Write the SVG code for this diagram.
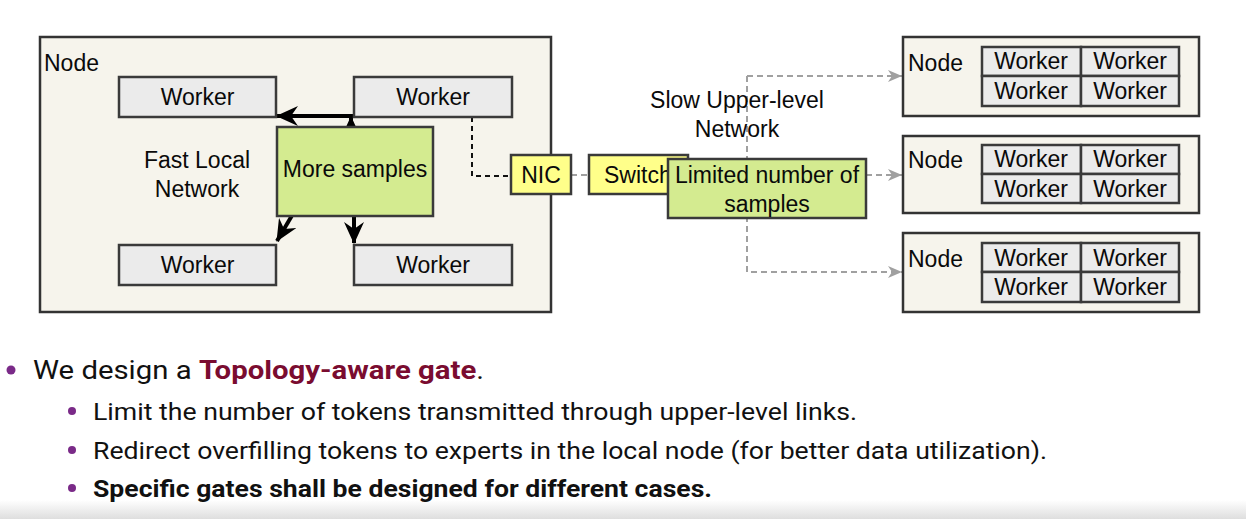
<svg xmlns="http://www.w3.org/2000/svg" width="1246" height="519" viewBox="0 0 1246 519">
<defs>
  <linearGradient id="bg" x1="0" y1="0" x2="0" y2="1">
    <stop offset="0" stop-color="#ffffff"/>
    <stop offset="1" stop-color="#dedede"/>
  </linearGradient>
  <marker id="blk" markerUnits="userSpaceOnUse" viewBox="0 0 22 20" markerWidth="22" markerHeight="20" refX="21" refY="10" orient="auto">
    <path d="M0,0 L22,10 L0,20 L7,10 z" fill="#000"/>
  </marker>
  <marker id="gry" markerUnits="userSpaceOnUse" viewBox="0 0 14 12" markerWidth="14" markerHeight="12" refX="14" refY="6" orient="auto">
    <path d="M0,0 L14,6 L0,12 L4,6 z" fill="#a0a0a0"/>
  </marker>
  <style>
    .t{font-family:"Liberation Sans",Arial,sans-serif;font-size:23px;fill:#0a0a0a}
    .c{text-anchor:middle}
    .node{fill:#f6f4ec;stroke:#333;stroke-width:2.5}
    .wk{fill:#ebebeb;stroke:#3a3a3a;stroke-width:2.5}
    .green{fill:#d4eb90;stroke:#3a3a3a;stroke-width:2.5}
    .yel{fill:#ffff8a;stroke:#3a3a3a;stroke-width:2.5}
    .arr{stroke:#000;stroke-width:4;fill:none;marker-end:url(#blk)}
    .bd{stroke:#111;stroke-width:2;stroke-dasharray:5 4;fill:none}
    .gd{stroke:#a0a0a0;stroke-width:2;stroke-dasharray:6 4;fill:none}
    .ga{marker-end:url(#gry)}
    .b{font-family:Roboto,"Liberation Sans",sans-serif;fill:#111}
    .dot{fill:#7a2a88}
  </style>
</defs>
<rect x="0" y="0" width="1246" height="519" fill="#fff"/>
<rect x="0" y="500" width="1246" height="19" fill="url(#bg)"/>

<g id="local-node">
  <rect class="node" x="40" y="37" width="511" height="275"/>
  <text class="t" x="44" y="71">Node</text>
  <text class="t c" x="197" y="168">Fast Local</text>
  <text class="t c" x="197" y="197">Network</text>
</g>

<g id="connectors">
  <path class="arr" d="M354,116 L277,116"/>
  <path class="arr" d="M351,150 L351,117"/>
  <path class="arr" d="M304,195 L277,241"/>
  <path class="arr" d="M354,195 L354,243"/>
  <path class="bd" d="M472,117 L472,176 L511,176"/>
  <path class="gd" d="M571,175 L589,175"/>
  <path class="gd" d="M688,175 L747,175"/>
  <path class="gd ga" d="M866,175 L902,175"/>
  <path class="gd ga" d="M747,76 L747,272 L902,272"/>
  <path class="gd ga" d="M747,76 L902,76"/>
</g>

<g id="worker-tl"><rect class="wk" x="119" y="77" width="157" height="40"/><text class="t c" x="197.5" y="105">Worker</text></g>
<g id="worker-tr"><rect class="wk" x="354" y="77" width="158" height="40"/><text class="t c" x="433" y="105">Worker</text></g>
<g id="worker-bl"><rect class="wk" x="119" y="245" width="157" height="40"/><text class="t c" x="197.5" y="273">Worker</text></g>
<g id="worker-br"><rect class="wk" x="354" y="245" width="158" height="40"/><text class="t c" x="433" y="273">Worker</text></g>

<g id="more-samples"><rect class="green" x="277" y="127" width="156" height="89"/><text class="t c" x="355" y="177">More samples</text></g>

<g id="nic"><rect class="yel" x="511" y="155" width="60" height="39"/><text class="t c" x="541" y="183">NIC</text></g>
<g id="switch"><rect class="yel" x="589" y="155" width="99" height="39"/><text class="t" x="604" y="183">Switch</text></g>
<g id="limited"><rect class="green" x="668" y="159" width="198" height="59"/><text class="t c" x="767" y="183">Limited number of</text><text class="t c" x="767" y="212">samples</text></g>

<g id="slow-label"><text class="t c" x="737" y="108">Slow Upper-level</text><text class="t c" x="737" y="137">Network</text></g>

<g id="node1">
  <rect class="node" x="903" y="37" width="296" height="79"/>
  <text class="t" x="908" y="71">Node</text>
  <rect class="wk" x="982" y="47" width="99" height="29"/><rect class="wk" x="1081" y="47" width="98" height="29"/>
  <rect class="wk" x="982" y="76" width="99" height="30"/><rect class="wk" x="1081" y="76" width="98" height="30"/>
  <text class="t c" x="1031" y="69">Worker</text><text class="t c" x="1130" y="69">Worker</text>
  <text class="t c" x="1031" y="99">Worker</text><text class="t c" x="1130" y="99">Worker</text>
</g>
<g id="node2">
  <rect class="node" x="903" y="136" width="296" height="77"/>
  <text class="t" x="908" y="168">Node</text>
  <rect class="wk" x="982" y="145" width="99" height="29"/><rect class="wk" x="1081" y="145" width="98" height="29"/>
  <rect class="wk" x="982" y="174" width="99" height="29"/><rect class="wk" x="1081" y="174" width="98" height="29"/>
  <text class="t c" x="1031" y="167">Worker</text><text class="t c" x="1130" y="167">Worker</text>
  <text class="t c" x="1031" y="197">Worker</text><text class="t c" x="1130" y="197">Worker</text>
</g>
<g id="node3">
  <rect class="node" x="903" y="233" width="296" height="79"/>
  <text class="t" x="908" y="267">Node</text>
  <rect class="wk" x="982" y="243" width="99" height="29"/><rect class="wk" x="1081" y="243" width="98" height="29"/>
  <rect class="wk" x="982" y="272" width="99" height="30"/><rect class="wk" x="1081" y="272" width="98" height="30"/>
  <text class="t c" x="1031" y="266">Worker</text><text class="t c" x="1130" y="266">Worker</text>
  <text class="t c" x="1031" y="295">Worker</text><text class="t c" x="1130" y="295">Worker</text>
</g>

<g id="bullets">
  <circle class="dot" cx="11" cy="370" r="4.5"/>
  <text class="b" x="33" y="379" font-size="26" textLength="451" lengthAdjust="spacingAndGlyphs">We design a <tspan font-weight="bold" fill="#7a0c30">Topology-aware gate</tspan>.</text>
  <circle class="dot" cx="72" cy="411" r="4"/>
  <text class="b" x="93" y="420" font-size="24" textLength="764" lengthAdjust="spacingAndGlyphs">Limit the number of tokens transmitted through upper-level links.</text>
  <circle class="dot" cx="72" cy="450" r="4"/>
  <text class="b" x="93" y="459" font-size="24" textLength="954" lengthAdjust="spacingAndGlyphs">Redirect overfilling tokens to experts in the local node (for better data utilization).</text>
  <circle class="dot" cx="72" cy="488" r="4"/>
  <text class="b" x="93" y="497" font-size="24" font-weight="bold" textLength="619" lengthAdjust="spacingAndGlyphs">Specific gates shall be designed for different cases.</text>
</g>
</svg>
